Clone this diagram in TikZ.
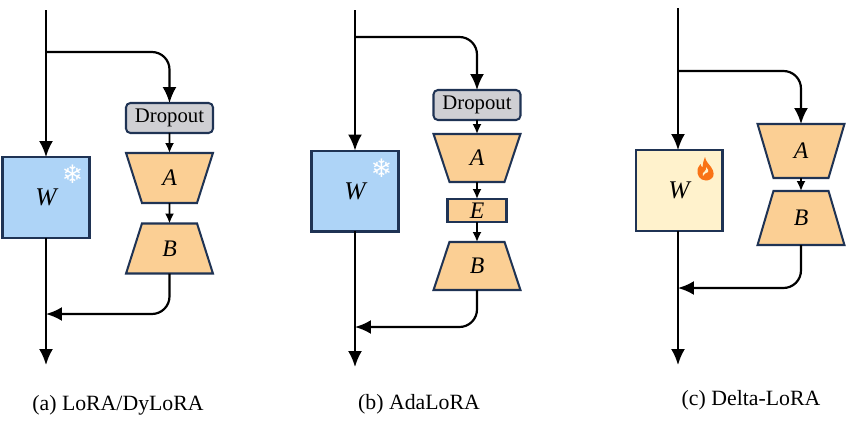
\documentclass[tikz,border=0pt]{standalone}
\usepackage{fontspec}
\setmainfont{Liberation Serif}
\newfontfamily\iconfont{DejaVu Sans}
\usetikzlibrary{shapes.geometric,arrows.meta}
\definecolor{frozen}{RGB}{174,212,247}
\definecolor{trained}{RGB}{255,242,204}
\definecolor{lowrank}{RGB}{251,207,148}
\definecolor{dropgray}{RGB}{207,207,211}
\definecolor{edge}{RGB}{31,51,84}
\definecolor{flame}{RGB}{249,115,22}
\tikzstyle{weight}=[draw=edge,line width=1.15pt,minimum width=1.74cm,minimum height=1.62cm,inner sep=0pt,outer sep=0pt,font=\fontsize{14.5}{16}\selectfont\itshape]
\tikzstyle{drop}=[draw=edge,line width=1.15pt,fill=dropgray,rounded corners=2.5pt,minimum width=1.74cm,minimum height=.6cm,inner sep=0pt,outer sep=0pt,font=\fontsize{11.8}{13}\selectfont]
\tikzset{lowrank/.style={trapezium,trapezium stretches=true,trapezium left angle=75,trapezium right angle=75,draw=edge,line width=1.15pt,fill=lowrank,minimum width=1.74cm,minimum height=1cm,inner sep=0pt,outer sep=0pt,font=\fontsize{13.5}{15}\selectfont\itshape}}
\tikzset{narrowtop/.style={lowrank},widetop/.style={lowrank,shape border rotate=180}}
\tikzstyle{flow}=[-{Latex[length=3.2mm,width=2.8mm]},line width=1.25pt]
\tikzstyle{link}=[-{Latex[length=2mm,width=1.8mm]},line width=1pt]
\tikzstyle{caption}=[font=\fontsize{12.4}{14}\selectfont]
\tikzstyle{snow}=[text=white,font=\iconfont\fontsize{14.5}{15}\selectfont,inner sep=0pt]
\begin{document}
\begin{tikzpicture}[x=.02cm,y=-.02cm]
  \useasboundingbox (0,0) rectangle (850,423);

  %% LoRA/DyLoRA
  \draw (46,197.5) node[weight,fill=frozen] (Wa) {W};
  \draw (72.5,174.5) node[snow] (Sa) {❄};
  \draw (169.5,118) node[drop] (Da) {Dropout};
  \draw (169.5,178) node[widetop] (Aa) {A};
  \draw (169.5,248.5) node[narrowtop] (Ba) {B};
  \coordinate (Ia) at (46,10);
  \coordinate (Oa) at (46,365);
  \coordinate (Sp1) at (46,52);
  \coordinate (Jn1) at (46,314);

  \draw[flow] (Ia) -- (Wa);
  \draw[flow] (Wa) -- (Oa);
  \draw[flow,rounded corners=10pt] (Sp1) -| (Da);
  \draw[link] (Da) -- (Aa);
  \draw[link] (Aa) -- (Ba);
  \draw[flow,rounded corners=10pt] (Ba) |- (Jn1);

  %% AdaLoRA
  \draw (355,191) node[weight,fill=frozen] (Wb) {W};
  \draw (381.5,168) node[snow] (Sb) {❄};
  \draw (477,105) node[drop] (Db) {Dropout};
  \draw (477,158) node[widetop,minimum height=.96cm] (Ab) {A};
  \draw (477,210.5) node[draw=edge,line width=1.15pt,fill=lowrank,minimum width=1.18cm,minimum height=.46cm,inner sep=0pt,outer sep=0pt,font=\fontsize{13.5}{15}\selectfont\itshape] (Eb) {E};
  \draw (477,266) node[narrowtop,minimum height=.96cm] (Bb) {B};
  \coordinate (Ib) at (355,10);
  \coordinate (Ob) at (355,367);
  \coordinate (Sp2) at (355,37);
  \coordinate (Jn2) at (355,327);

  \draw[flow] (Ib) -- (Wb);
  \draw[flow] (Wb) -- (Ob);
  \draw[flow,rounded corners=10pt] (Sp2) -| (Db);
  \draw[link] (Db) -- (Ab);
  \draw[link] (Ab) -- (Eb);
  \draw[link] (Eb) -- (Bb);
  \draw[flow,rounded corners=10pt] (Bb) |- (Jn2);

  %% Delta-LoRA
  \draw (679,190.5) node[weight,fill=trained] (Wc) {W};
  \draw[fill=flame,draw=none] (706,180.5) .. controls (700,180.5) and (696.5,175) .. (697.5,169.5)
    .. controls (698.5,166) and (700,165.5) .. (700.5,164) .. controls (701,166) and (701.5,167) .. (702.5,167.5)
    .. controls (703,163) and (703.5,160) .. (705,157) .. controls (706,162) and (709,164) .. (711,167)
    .. controls (714,171) and (715,176.5) .. (711,179) .. controls (709.5,180) and (708,180.5) .. (706,180.5) -- cycle;
  \draw[fill=trained,draw=none] (703,176) .. controls (702,174) and (703,172) .. (705,171)
    .. controls (706,170) and (706.5,169) .. (706,167) .. controls (708,169) and (709,171) .. (708,172)
    .. controls (706,172.5) and (704,174) .. (703,176) -- cycle;
  \draw (801,151) node[widetop,minimum height=1.08cm] (Ac) {A};
  \draw (801,218) node[narrowtop,minimum height=1.08cm] (Bc) {B};
  \coordinate (Ic) at (678,8);
  \coordinate (Oc) at (678,365);
  \coordinate (Sp3) at (678,71);
  \coordinate (Jn3) at (678,288);

  \draw[flow] (Ic) -- (Ic |- Wc.north);
  \draw[flow] (Wc.south -| Ic) -- (Oc);
  \draw[flow,rounded corners=10pt] (Sp3) -| (Ac);
  \draw[link] (Ac) -- (Bc);
  \draw[flow,rounded corners=10pt] (Bc) |- (Jn3);

  %% Captions
  \draw (118,405) node[caption] (Ca) {(a) LoRA/DyLoRA};
  \draw (419,404) node[caption] (Cb) {(b) AdaLoRA};
  \draw (751,400) node[caption] (Cc) {(c) Delta-LoRA};
\end{tikzpicture}
\end{document}
